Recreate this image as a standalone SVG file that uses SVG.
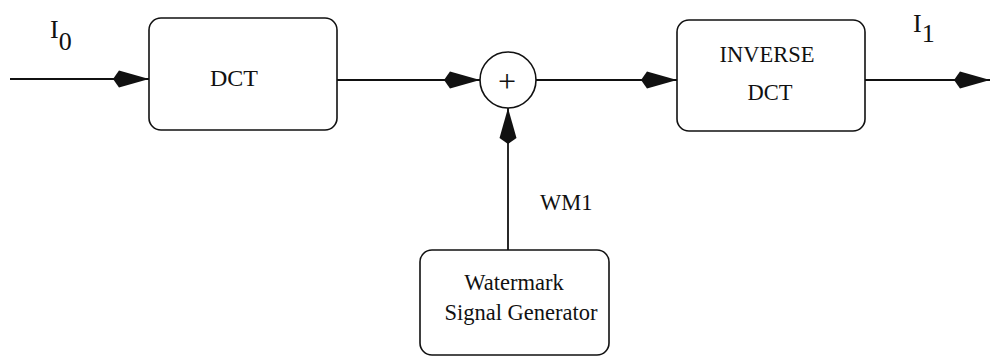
<svg xmlns="http://www.w3.org/2000/svg" width="990" height="358" viewBox="0 0 990 358">
<style>
.box{fill:#fff;stroke:#111;stroke-width:1.6}
.ln{fill:none;stroke:#111;stroke-width:1.8}
.t{font-family:"Liberation Serif","Times New Roman",serif;font-size:22.5px;fill:#111}
.lbl{font-family:"Liberation Serif","Times New Roman",serif;font-size:26px;fill:#111}
</style>
<defs>
<marker id="dia" markerUnits="userSpaceOnUse" markerWidth="40" markerHeight="22" viewBox="-37 -10 40 20" refX="0" refY="0" orient="auto">
<path d="M-36,0 L-30,-8.5 L0,0 L-30,8.5 Z" fill="#111"/>
</marker>
</defs>
<rect width="990" height="358" fill="#fff"/>
<g id="connectors">
<line class="ln" x1="10" y1="79" x2="149" y2="79" marker-end="url(#dia)"/>
<line class="ln" x1="337" y1="80" x2="480" y2="80" marker-end="url(#dia)"/>
<line class="ln" x1="536" y1="80" x2="677" y2="80" marker-end="url(#dia)"/>
<line class="ln" x1="865" y1="80" x2="990" y2="80" marker-end="url(#dia)"/>
<line class="ln" x1="508" y1="250" x2="508" y2="108" marker-end="url(#dia)"/>
</g>
<g id="dct">
<rect class="box" x="149" y="18" width="188" height="112" rx="12"/>
<text class="t" x="234" y="86" text-anchor="middle" style="font-size:24px">DCT</text>
</g>
<g id="adder">
<circle class="box" cx="508" cy="80" r="28"/>
<text class="t" x="507" y="92" text-anchor="middle" style="font-size:32px">+</text>
</g>
<g id="idct">
<rect class="box" x="677" y="20" width="188" height="111" rx="12"/>
<text class="t" x="767" y="62" text-anchor="middle">INVERSE</text>
<text class="t" x="770" y="100" text-anchor="middle">DCT</text>
</g>
<g id="wmgen">
<rect class="box" x="420" y="250" width="189" height="105" rx="12"/>
<text class="t" x="514" y="290" text-anchor="middle">Watermark</text>
<text class="t" x="521" y="320" text-anchor="middle">Signal Generator</text>
</g>
<g id="labels">
<text class="lbl" x="50" y="38">I<tspan dy="12">0</tspan></text>
<text class="lbl" x="913" y="32">I<tspan dy="10">1</tspan></text>
<text class="t" x="540" y="210">WM1</text>
</g>
</svg>
